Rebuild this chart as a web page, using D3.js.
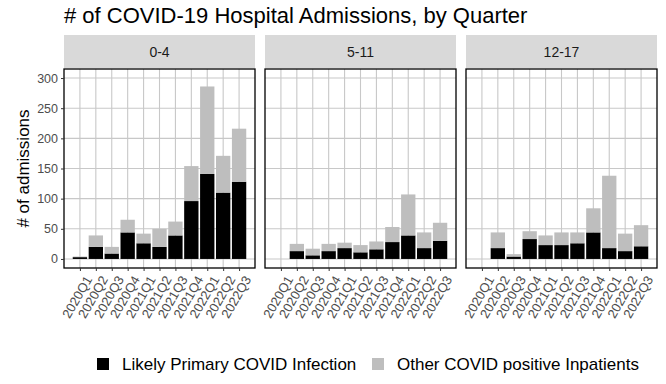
<!DOCTYPE html>
<html>
<head>
<meta charset="utf-8">
<script src="https://cdn.jsdelivr.net/npm/d3@7/dist/d3.min.js"></script>
<style>
  body { margin: 0; background: #fff; }
  text { font-family: "Liberation Sans", Arial, sans-serif; }
</style>
</head>
<body>
<svg id="chart" width="666" height="384"></svg>
<script>
var quarters = ["2020Q1", "2020Q2", "2020Q3", "2020Q4", "2021Q1", "2021Q2",
                "2021Q3", "2021Q4", "2022Q1", "2022Q2", "2022Q3"];
var ageGroups = ["0-4", "5-11", "12-17"];

// likely primary covid infection
var primary04   = [3, 20, 9, 44, 26, 20, 39, 96, 141, 110, 128];
var primary511  = [null, 13, 6, 13, 18, 11, 16, 28, 39, 18, 30];
var primary1217 = [null, 18, 4, 33, 23, 23, 26, 44, 18, 13, 21];

// other covid positive inpatients
var other04   = [1, 19, 11, 21, 16, 30, 23, 58, 145, 61, 88];
var other511  = [null, 12, 11, 12, 9, 12, 13, 25, 68, 26, 30];
var other1217 = [null, 26, 4, 13, 16, 21, 18, 40, 120, 29, 35];

var yTicks = [0, 50, 100, 150, 200, 250, 300];
var seriesNames = ["Likely Primary COVID Infection", "Other COVID positive Inpatients"];
var seriesColors = ["#000000", "#bebebe"];

var panels = [
  { group: ageGroups[0], primary: primary04, other: other04 },
  { group: ageGroups[1], primary: primary511, other: other511 },
  { group: ageGroups[2], primary: primary1217, other: other1217 }
];

var svg = d3.select("#chart");

var panelW = 191, gap = 10, pLeft = 64,
    pTop = 69, pBottom = 268, stripH = 33;

var y = d3.scaleLinear().domain([-15, 315]).range([pBottom, pTop]);

svg.append("text")
    .attr("x", pLeft)
    .attr("y", 23)
    .attr("font-size", 22)
    .attr("fill", "#000")
    .text("# of COVID-19 Hospital Admissions, by Quarter");

svg.append("text")
    .attr("transform", "translate(29," + ((pTop + pBottom) / 2) + ") rotate(-90)")
    .attr("text-anchor", "middle")
    .attr("font-size", 17)
    .attr("fill", "#000")
    .text("# of admissions");

panels.forEach(function (p, i) {
  var x0 = pLeft + i * (panelW + gap);
  var x = d3.scalePoint().domain(quarters).range([x0, x0 + panelW]).padding(1);
  var bw = x.step() * 0.9;

  var rows = quarters.map(function (q, j) {
    return { q: q, primary: p.primary[j] || 0, other: p.other[j] || 0, has: p.primary[j] != null };
  }).filter(function (d) { return d.has; });

  var stack = d3.stack().keys(["primary", "other"])(rows);

  var g = svg.append("g");

  // strip
  g.append("rect")
      .attr("x", x0).attr("y", pTop - stripH - 1)
      .attr("width", panelW).attr("height", stripH)
      .attr("fill", "#d9d9d9");
  g.append("text")
      .attr("x", x0 + panelW / 2).attr("y", pTop - 1 - stripH / 2 + 5)
      .attr("text-anchor", "middle")
      .attr("font-size", 14)
      .attr("fill", "#1a1a1a")
      .text(p.group);

  // grid
  g.selectAll(".hg").data(yTicks).enter().append("line")
      .attr("x1", x0).attr("x2", x0 + panelW)
      .attr("y1", function (d) { return y(d); }).attr("y2", function (d) { return y(d); })
      .attr("stroke", "#c8c8c8").attr("stroke-width", 1.1);
  g.selectAll(".vg").data(quarters).enter().append("line")
      .attr("x1", function (d) { return x(d); }).attr("x2", function (d) { return x(d); })
      .attr("y1", pTop).attr("y2", pBottom)
      .attr("stroke", "#c8c8c8").attr("stroke-width", 1.1);

  // bars
  g.selectAll(".layer").data(stack).enter().append("g")
      .attr("fill", function (d, k) { return seriesColors[k]; })
    .selectAll("rect").data(function (d) { return d; }).enter().append("rect")
      .attr("x", function (d) { return x(d.data.q) - bw / 2; })
      .attr("width", bw)
      .attr("y", function (d) { return y(d[1]); })
      .attr("height", function (d) { return y(d[0]) - y(d[1]); });

  // border
  g.append("rect")
      .attr("x", x0).attr("y", pTop)
      .attr("width", panelW).attr("height", pBottom - pTop)
      .attr("fill", "none").attr("stroke", "#000").attr("stroke-width", 1.3);

  // x axis
  var xa = g.append("g")
      .attr("transform", "translate(0," + pBottom + ")")
      .call(d3.axisBottom(x).tickSize(3).tickPadding(3));
  xa.select(".domain").remove();
  xa.selectAll(".tick line").attr("stroke", "#333");
  xa.selectAll(".tick text")
      .attr("font-size", 13)
      .attr("fill", "#4d4d4d")
      .attr("text-anchor", "end")
      .attr("dy", "0.35em")
      .attr("transform", "translate(3,6) rotate(-60)");

  if (i === 0) {
    var ya = g.append("g")
        .attr("transform", "translate(" + x0 + ",0)")
        .call(d3.axisLeft(y).tickValues(yTicks).tickSize(3).tickPadding(3));
    ya.select(".domain").remove();
    ya.selectAll(".tick line").attr("stroke", "#333");
    ya.selectAll(".tick text").attr("font-size", 12.5).attr("fill", "#4d4d4d");
  }
});

// legend
var legend = svg.append("g").attr("transform", "translate(0,364)");
var lx = [97, 372];
seriesNames.forEach(function (name, k) {
  legend.append("rect")
      .attr("x", lx[k]).attr("y", -6)
      .attr("width", 12).attr("height", 12)
      .attr("fill", seriesColors[k]);
  legend.append("text")
      .attr("x", lx[k] + 25).attr("y", 6)
      .attr("font-size", 17)
      .attr("fill", "#000")
      .text(name);
});
</script>
</body>
</html>
